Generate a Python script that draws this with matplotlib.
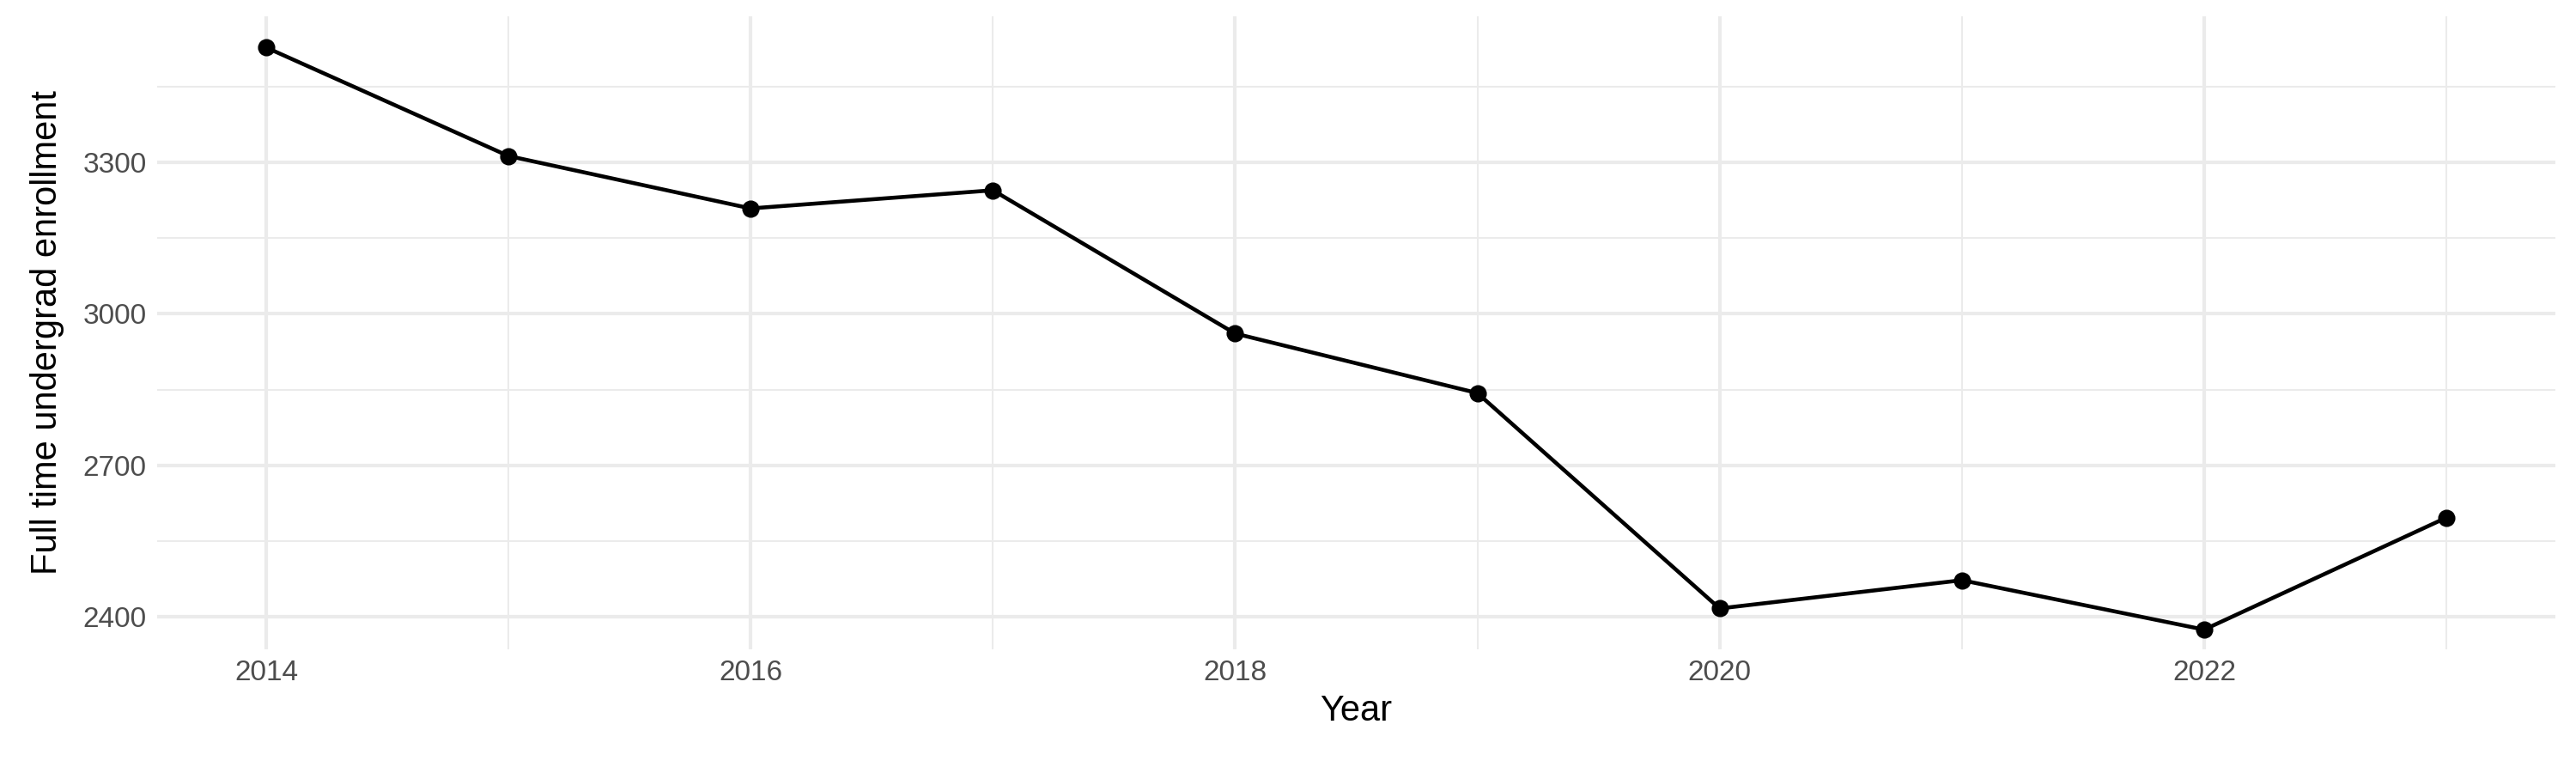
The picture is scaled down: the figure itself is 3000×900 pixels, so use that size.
import matplotlib.pyplot as plt
from matplotlib.ticker import MultipleLocator

years = [2014, 2015, 2016, 2017, 2018, 2019, 2020, 2021, 2022, 2023]
enrollment = [3528, 3313, 3209, 3245, 2961, 2843, 2416, 2472, 2374, 2596]

plt.rcParams['font.family'] = ['Liberation Sans', 'DejaVu Sans']

fig = plt.figure(figsize=(20, 6), dpi=150)
ax = fig.add_axes([0.061, 0.16, 0.931, 0.819])

ax.plot(years, enrollment, color='black', linewidth=2.2, zorder=3)
ax.scatter(years, enrollment, color='black', s=75, zorder=4)

ax.set_xlim(2013.55, 2023.45)
ax.set_ylim(2335, 3590)
ax.xaxis.set_major_locator(MultipleLocator(2))
ax.xaxis.set_minor_locator(MultipleLocator(1))
ax.yaxis.set_major_locator(MultipleLocator(300))
ax.yaxis.set_minor_locator(MultipleLocator(150))

ax.grid(which='major', color='#EBEBEB', linewidth=2.0)
ax.grid(which='minor', color='#EBEBEB', linewidth=1.0)
ax.set_axisbelow(True)
for s in ax.spines.values():
    s.set_visible(False)
ax.tick_params(which='both', length=0, labelsize=16, labelcolor='#4D4D4D', pad=6)

ax.set_xlabel('Year', fontsize=20, labelpad=4)
ax.set_ylabel('Full time undergrad enrollment', fontsize=20, labelpad=10)

fig.savefig('out.png')
